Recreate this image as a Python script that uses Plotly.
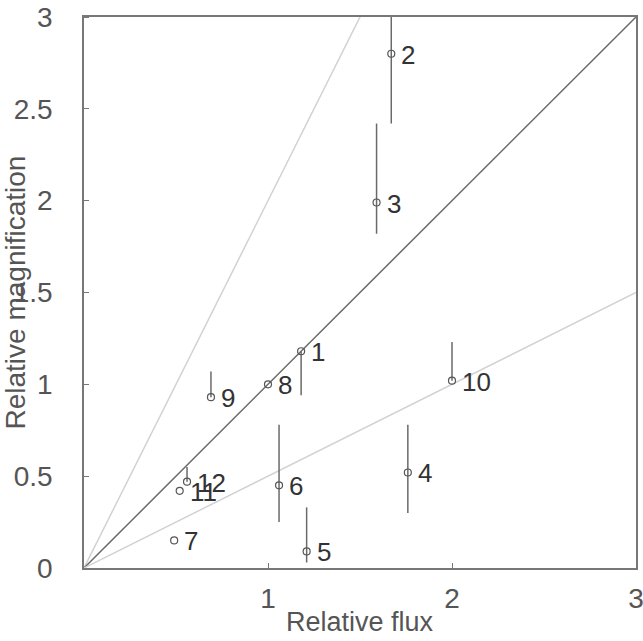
import plotly.graph_objects as go

labels = ["1", "2", "3", "4", "5", "6", "7", "8", "9", "10", "11", "12"]
flux = [1.18, 1.67, 1.59, 1.76, 1.21, 1.06, 0.49, 1.00, 0.69, 2.00, 0.52, 0.56]
mag = [1.18, 2.80, 1.99, 0.52, 0.09, 0.45, 0.15, 1.00, 0.93, 1.02, 0.42, 0.47]
err_plus = [0.0, 0.30, 0.43, 0.26, 0.24, 0.33, 0.0, 0.0, 0.14, 0.21, 0.0, 0.08]
err_minus = [0.24, 0.38, 0.17, 0.22, 0.06, 0.20, 0.0, 0.0, 0.0, 0.0, 0.0, 0.0]

x_ticks = [1, 2, 3]
y_ticks = [0, 0.5, 1, 1.5, 2, 2.5, 3]
y_ticktext = ["0", "0.5", "1", "1.5", "2", "2.5", "3"]

ref_slopes = [2.0, 1.0, 0.5]
ref_colors = ["#d2d2d2", "#6a6a6a", "#d2d2d2"]
x_span = [0, 3]

FONT = "Liberation Sans, Arial, Helvetica"

fig = go.Figure()
for s, c in zip(ref_slopes, ref_colors):
    fig.add_trace(go.Scatter(x=x_span, y=[s * v for v in x_span], mode="lines",
                             line=dict(color=c, width=1.5), hoverinfo="skip"))

fig.add_trace(go.Scatter(
    x=flux, y=mag, mode="markers",
    marker=dict(symbol="circle-open", size=7, color="#555555", line=dict(width=1.2)),
    error_y=dict(type="data", symmetric=False, array=err_plus, arrayminus=err_minus,
                 color="#6a6a6a", thickness=1.5, width=0),
))

point_labels = [
    dict(text=t, x=xv, y=yv, xref="x", yref="y", xanchor="left", yanchor="middle",
         xshift=8, yshift=-1, showarrow=False,
         font=dict(size=26, color="#333333", family=FONT))
    for t, xv, yv in zip(labels, flux, mag)
]

axis_common = dict(range=[0, 3], showgrid=False, zeroline=False, showline=True,
                   linecolor="#777777", linewidth=1.5, mirror=True,
                   ticks="outside", tickcolor="rgba(0,0,0,0)", automargin=False,
                   ticklabeloverflow="allow",
                   tickfont=dict(size=28, color="#555555", family=FONT))

fig.update_layout(
    width=643, height=641,
    margin=dict(l=84, r=7, t=17, b=73),
    paper_bgcolor="white", plot_bgcolor="white",
    showlegend=False,
    xaxis=dict(axis_common, tickvals=x_ticks, ticklen=5,
               minor=dict(tickvals=x_ticks, ticks="inside", ticklen=5,
                          tickcolor="#777777", tickwidth=1, showgrid=False)),
    yaxis=dict(axis_common, tickvals=y_ticks, ticktext=y_ticktext, ticklen=24,
               minor=dict(tickvals=y_ticks, ticks="inside", ticklen=5,
                          tickcolor="#777777", tickwidth=1, showgrid=False)),
    annotations=point_labels + [
        dict(text="Relative flux", xref="paper", yref="paper", x=0.5, y=0,
             yshift=-54, xanchor="center", yanchor="middle", showarrow=False,
             font=dict(size=27, color="#555555", family=FONT)),
        dict(text="Relative magnification", xref="paper", yref="paper", x=0, y=0.5,
             xshift=-69, xanchor="center", yanchor="middle", textangle=-90,
             showarrow=False, font=dict(size=28, color="#555555", family=FONT)),
    ],
)

fig.write_html("out.html", config={"displayModeBar": False},
               post_script="document.body.style.margin='0';document.body.style.overflow='hidden';")
